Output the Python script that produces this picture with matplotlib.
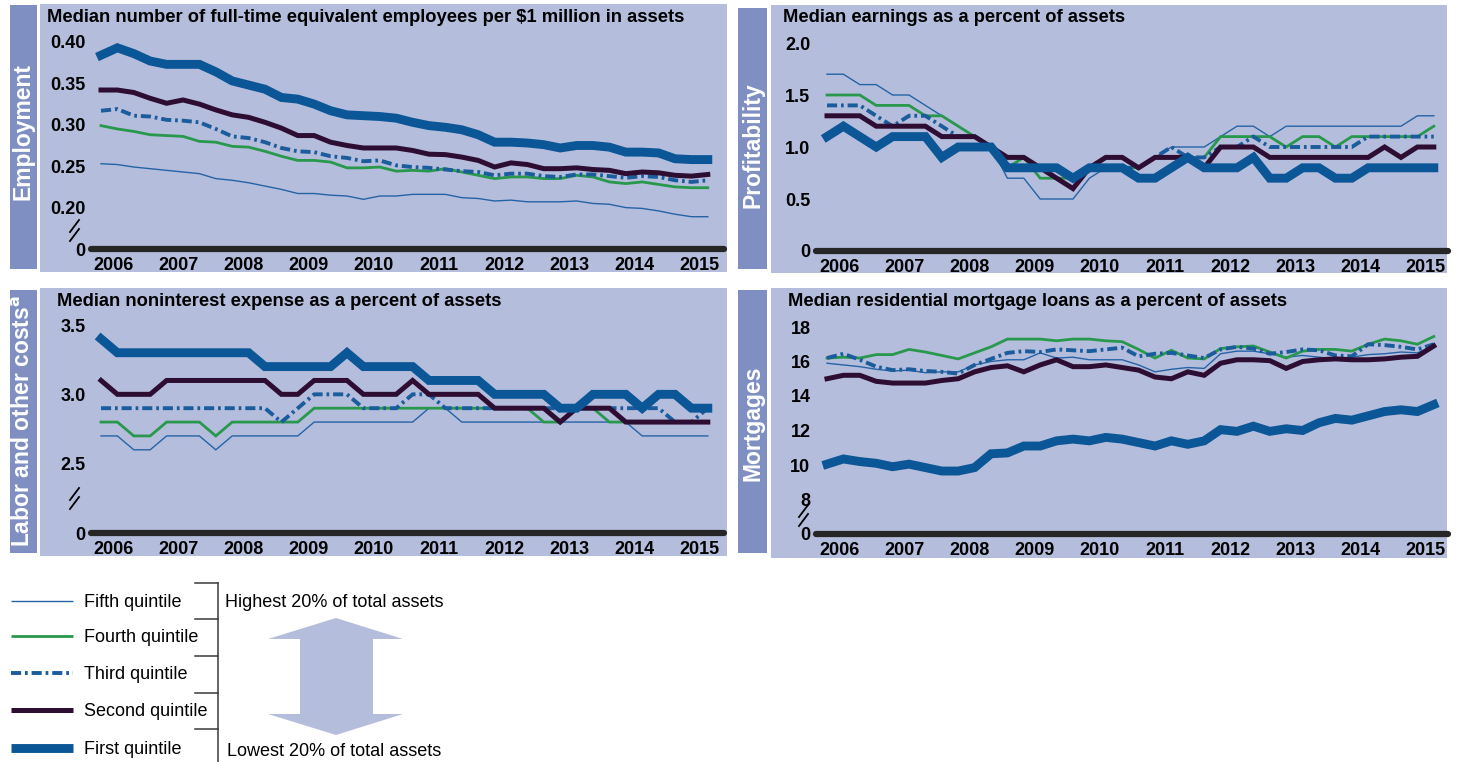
import numpy as np
import matplotlib
matplotlib.use('Agg')
import matplotlib.pyplot as plt
from matplotlib.lines import Line2D
from matplotlib.patches import Rectangle, Polygon

W, H = 1460, 762
FONT = ['Liberation Sans', 'DejaVu Sans']
plt.rcParams['font.family'] = FONT

years = list(range(2006, 2016))
quarters = np.arange(38)  # quarterly observations 2006Q1 .. 2015Q2

series_names = ['Fifth quintile', 'Fourth quintile', 'Third quintile',
                'Second quintile', 'First quintile']

# ---- Employment: FTE per $1 million in assets
emp_fifth = [0.253, 0.252, 0.249, 0.247, 0.245, 0.243, 0.241, 0.235, 0.233, 0.230,
             0.226, 0.222, 0.217, 0.217, 0.215, 0.214, 0.210, 0.214, 0.214, 0.216,
             0.216, 0.216, 0.212, 0.211, 0.208, 0.209, 0.207, 0.207, 0.207, 0.208,
             0.205, 0.204, 0.200, 0.199, 0.196, 0.192, 0.189, 0.189]
emp_fourth = [0.299, 0.295, 0.292, 0.288, 0.287, 0.286, 0.280, 0.279, 0.274, 0.273,
              0.268, 0.262, 0.257, 0.257, 0.255, 0.248, 0.248, 0.249, 0.244, 0.245,
              0.244, 0.247, 0.243, 0.239, 0.235, 0.237, 0.237, 0.235, 0.235, 0.239,
              0.237, 0.231, 0.229, 0.231, 0.228, 0.225, 0.224, 0.224]
emp_third = [0.317, 0.319, 0.311, 0.310, 0.306, 0.305, 0.303, 0.295, 0.286, 0.284,
             0.279, 0.272, 0.268, 0.267, 0.262, 0.260, 0.256, 0.257, 0.251, 0.249,
             0.248, 0.246, 0.244, 0.243, 0.239, 0.241, 0.241, 0.238, 0.237, 0.240,
             0.240, 0.238, 0.236, 0.238, 0.237, 0.233, 0.231, 0.233]
emp_second = [0.342, 0.342, 0.339, 0.332, 0.326, 0.330, 0.325, 0.318, 0.312, 0.309,
              0.303, 0.296, 0.287, 0.287, 0.279, 0.275, 0.272, 0.272, 0.272, 0.269,
              0.2645, 0.264, 0.261, 0.257, 0.249, 0.254, 0.252, 0.247, 0.247, 0.248,
              0.246, 0.245, 0.241, 0.243, 0.242, 0.239, 0.238, 0.240]
emp_first = [0.384, 0.393, 0.386, 0.377, 0.373, 0.373, 0.373, 0.364, 0.353, 0.348,
             0.343, 0.333, 0.331, 0.325, 0.317, 0.312, 0.311, 0.310, 0.308, 0.303,
             0.299, 0.297, 0.294, 0.288, 0.279, 0.279, 0.278, 0.276, 0.272, 0.275,
             0.275, 0.273, 0.267, 0.267, 0.266, 0.259, 0.258, 0.258]

# ---- Profitability: earnings as a percent of assets
prof_fifth = [1.7, 1.7, 1.6, 1.6, 1.5, 1.5, 1.4, 1.3, 1.2, 1.1,
              1.0, 0.7, 0.7, 0.5, 0.5, 0.5, 0.7, 0.8, 0.8, 0.8,
              0.9, 1.0, 1.0, 1.0, 1.1, 1.2, 1.2, 1.1, 1.2, 1.2,
              1.2, 1.2, 1.2, 1.2, 1.2, 1.2, 1.3, 1.3]
prof_fourth = [1.5, 1.5, 1.5, 1.4, 1.4, 1.4, 1.3, 1.3, 1.2, 1.1,
               1.0, 0.8, 0.9, 0.7, 0.7, 0.7, 0.8, 0.8, 0.8, 0.8,
               0.9, 0.9, 0.9, 0.9, 1.1, 1.1, 1.1, 1.1, 1.0, 1.1,
               1.1, 1.0, 1.1, 1.1, 1.1, 1.1, 1.1, 1.2]
prof_third = [1.4, 1.4, 1.4, 1.3, 1.2, 1.3, 1.3, 1.2, 1.1, 1.1,
              1.0, 0.8, 0.8, 0.8, 0.8, 0.7, 0.8, 0.8, 0.8, 0.8,
              0.9, 1.0, 0.9, 0.9, 1.0, 1.0, 1.1, 1.0, 1.0, 1.0,
              1.0, 1.0, 1.0, 1.1, 1.1, 1.1, 1.1, 1.1]
prof_second = [1.3, 1.3, 1.3, 1.2, 1.2, 1.2, 1.2, 1.1, 1.1, 1.1,
               1.0, 0.9, 0.9, 0.8, 0.7, 0.6, 0.8, 0.9, 0.9, 0.8,
               0.9, 0.9, 0.9, 0.8, 1.0, 1.0, 1.0, 0.9, 0.9, 0.9,
               0.9, 0.9, 0.9, 0.9, 1.0, 0.9, 1.0, 1.0]
prof_first = [1.1, 1.2, 1.1, 1.0, 1.1, 1.1, 1.1, 0.9, 1.0, 1.0,
              1.0, 0.8, 0.8, 0.8, 0.8, 0.7, 0.8, 0.8, 0.8, 0.7,
              0.7, 0.8, 0.9, 0.8, 0.8, 0.8, 0.9, 0.7, 0.7, 0.8,
              0.8, 0.7, 0.7, 0.8, 0.8, 0.8, 0.8, 0.8]

# ---- Labor and other costs: noninterest expense as a percent of assets
cost_fifth = [2.7, 2.7, 2.6, 2.6, 2.7, 2.7, 2.7, 2.6, 2.7, 2.7,
              2.7, 2.7, 2.7, 2.8, 2.8, 2.8, 2.8, 2.8, 2.8, 2.8,
              2.9, 2.9, 2.8, 2.8, 2.8, 2.8, 2.8, 2.8, 2.8, 2.8,
              2.8, 2.8, 2.8, 2.7, 2.7, 2.7, 2.7, 2.7]
cost_fourth = [2.8, 2.8, 2.7, 2.7, 2.8, 2.8, 2.8, 2.7, 2.8, 2.8,
               2.8, 2.8, 2.8, 2.9, 2.9, 2.9, 2.9, 2.9, 2.9, 2.9,
               2.9, 2.9, 2.9, 2.9, 2.9, 2.9, 2.9, 2.8, 2.8, 2.9,
               2.9, 2.8, 2.8, 2.8, 2.8, 2.8, 2.8, 2.8]
cost_third = [2.9, 2.9, 2.9, 2.9, 2.9, 2.9, 2.9, 2.9, 2.9, 2.9,
              2.9, 2.8, 2.9, 3.0, 3.0, 3.0, 2.9, 2.9, 2.9, 3.0,
              3.0, 2.9, 2.9, 2.9, 2.9, 2.9, 2.9, 2.9, 2.9, 2.9,
              2.9, 2.9, 2.9, 2.9, 2.9, 2.8, 2.8, 2.9]
cost_second = [3.1, 3.0, 3.0, 3.0, 3.1, 3.1, 3.1, 3.1, 3.1, 3.1,
               3.1, 3.0, 3.0, 3.1, 3.1, 3.1, 3.0, 3.0, 3.0, 3.1,
               3.0, 3.0, 3.0, 3.0, 2.9, 2.9, 2.9, 2.9, 2.8, 2.9,
               2.9, 2.9, 2.8, 2.8, 2.8, 2.8, 2.8, 2.8]
cost_first = [3.4, 3.3, 3.3, 3.3, 3.3, 3.3, 3.3, 3.3, 3.3, 3.3,
              3.2, 3.2, 3.2, 3.2, 3.2, 3.3, 3.2, 3.2, 3.2, 3.2,
              3.1, 3.1, 3.1, 3.1, 3.0, 3.0, 3.0, 3.0, 2.9, 2.9,
              3.0, 3.0, 3.0, 2.9, 3.0, 3.0, 2.9, 2.9]

# ---- Mortgages: residential mortgage loans as a percent of assets
mort_fifth = [15.9, 15.8, 15.7, 15.55, 15.45, 15.5, 15.35, 15.4, 15.4, 15.8,
              16.0, 16.1, 16.1, 16.5, 16.2, 16.25, 16.1, 16.1, 16.1, 15.8,
              15.4, 15.55, 15.65, 15.6, 16.45, 16.6, 16.6, 16.45, 16.25, 16.35,
              16.25, 16.15, 16.25, 16.4, 16.45, 16.55, 16.5, 16.9]
mort_fourth = [16.2, 16.25, 16.2, 16.4, 16.4, 16.7, 16.55, 16.35, 16.15, 16.5,
               16.85, 17.3, 17.3, 17.3, 17.2, 17.3, 17.3, 17.2, 17.15, 16.7,
               16.2, 16.65, 16.2, 16.15, 16.75, 16.85, 16.9, 16.55, 16.2, 16.6,
               16.7, 16.7, 16.6, 17.0, 17.3, 17.2, 17.0, 17.45]
mort_third = [16.2, 16.45, 16.1, 15.7, 15.5, 15.55, 15.45, 15.4, 15.3, 15.8,
              16.15, 16.5, 16.6, 16.55, 16.7, 16.65, 16.6, 16.7, 16.8, 16.3,
              16.45, 16.5, 16.35, 16.2, 16.7, 16.85, 16.75, 16.45, 16.55, 16.7,
              16.65, 16.35, 16.3, 17.0, 16.95, 16.85, 16.7, 17.0]
mort_second = [15.0, 15.2, 15.2, 14.85, 14.75, 14.75, 14.75, 14.9, 15.0, 15.4,
               15.65, 15.75, 15.4, 15.8, 16.1, 15.7, 15.7, 15.8, 15.65, 15.5,
               15.1, 15.0, 15.4, 15.2, 15.9, 16.1, 16.1, 16.05, 15.6, 16.0,
               16.1, 16.15, 16.1, 16.1, 16.15, 16.25, 16.3, 16.9]
mort_first = [10.05, 10.35, 10.2, 10.1, 9.9, 10.05, 9.85, 9.65, 9.65, 9.85,
              10.65, 10.7, 11.1, 11.1, 11.4, 11.5, 11.4, 11.6, 11.5, 11.3,
              11.1, 11.4, 11.2, 11.4, 12.05, 11.95, 12.25, 11.95, 12.1, 12.0,
              12.45, 12.7, 12.6, 12.85, 13.1, 13.2, 13.1, 13.5]

emp_ticks = [0.20, 0.25, 0.30, 0.35, 0.40]
emp_labels = ['0.20', '0.25', '0.30', '0.35', '0.40']
prof_ticks = [0.5, 1.0, 1.5, 2.0]
prof_labels = ['0.5', '1.0', '1.5', '2.0']
cost_ticks = [2.5, 3.0, 3.5]
cost_labels = ['2.5', '3.0', '3.5']
mort_ticks = [8, 10, 12, 14, 16, 18]
mort_labels = ['8', '10', '12', '14', '16', '18']

# ---- styles
BOX = '#b5bddc'
SIDE = '#7f8fc1'
styles = [
    dict(color='#2563a6', lw=1.0, ls='-'),
    dict(color='#27984c', lw=2.0, ls='-'),
    dict(color='#1a5c9c', lw=2.8, ls=(0, (2.6, 1.0, 0.7, 1.0))),
    dict(color='#2e0d33', lw=3.6, ls='-'),
    dict(color='#0b5697', lw=6.4, ls='-'),
]

fig = plt.figure(figsize=(W / 100, H / 100), dpi=100)


def fx(px):
    return px / W


def fy(py):
    return 1 - py / H


def frect(x0, y0, x1, y1, color):
    fig.patches.append(Rectangle((fx(x0), fy(y1)), (x1 - x0) / W, (y1 - y0) / H,
                                 transform=fig.transFigure, facecolor=color,
                                 edgecolor='none', zorder=-10))


def fline(xs, ys, **kw):
    fig.add_artist(Line2D([fx(x) for x in xs], [fy(y) for y in ys],
                          transform=fig.transFigure, **kw))


def panel(box, side, side_label, label_y, title, title_xy, ax_x, base_px, top_px,
          ticks, labels, data, brk, broken):
    frect(*box, BOX)
    frect(*side, SIDE)
    fig.text(fx((side[0] + side[2]) / 2), fy(label_y), side_label,
             rotation=90, ha='center', va='center', color='white',
             fontsize=16.5, fontweight='bold')
    fig.text(fx(title_xy[0]), fy(title_xy[1]), title, ha='left', va='center',
             fontsize=13.2, fontweight='bold', color='black')
    step = ticks[1] - ticks[0]
    base_val = ticks[0] - step if broken else 0.0
    nsteps = round((ticks[-1] - base_val) / step)
    step_px = (base_px - top_px) / nsteps
    ax_top = top_px - 0.25 * step_px
    ax = fig.add_axes([fx(ax_x[0]), fy(base_px), (ax_x[1] - ax_x[0]) / W,
                       (base_px - ax_top) / H])
    ax.set_zorder(5)
    ax.patch.set_alpha(0)
    for s in ax.spines.values():
        s.set_visible(False)
    # x: data index i at pixel x0 + 16.4*i
    x0_data = ax_x[0] + (11 if ax_x[0] > 700 else 10)
    ax.set_xlim((ax_x[0] - x0_data) / 16.4, (ax_x[1] - x0_data) / 16.4)
    ax.set_ylim(base_val, ticks[-1] + 0.25 * step)
    for vals, st in zip(data, styles):
        ax.plot(quarters, vals, color=st['color'], lw=st['lw'], ls=st['ls'],
                solid_joinstyle='miter', dash_joinstyle='miter',
                dash_capstyle='butt')
    ax.axhline(base_val, color='#262626', lw=4.5, clip_on=False,
               solid_capstyle='round', zorder=5)
    ax.set_yticks([base_val] + list(ticks), ['0'] + list(labels))
    ax.set_xticks([0.75 + 3.97 * k for k in range(len(years))],
                  [str(y) for y in years])
    ax.tick_params(length=0, labelsize=13, pad=4)
    ax.tick_params(axis='x', pad=6)
    for t in ax.get_xticklabels() + ax.get_yticklabels():
        t.set_fontweight('bold')
    if brk is not None:
        bx, by = brk
        for dy in (0, 9):
            fline([bx, bx + 9], [by + dy + 6, by + dy - 6], color='black', lw=1.3)
    return ax


left_x = (91, 724)
right_x = (816, 1448)

panel((40, 4, 727, 272), (10, 5, 37, 269), 'Employment', 131,
      'Median number of full-time equivalent employees per $1 million in assets',
      (47, 18), left_x, 249, 42, emp_ticks, emp_labels,
      [emp_fifth, emp_fourth, emp_third, emp_second, emp_first], (70, 226), True)

panel((771, 5, 1447, 273), (738, 8, 767, 269), 'Profitability', 145,
      'Median earnings as a percent of assets',
      (783, 18), right_x, 251, 43, prof_ticks, prof_labels,
      [prof_fifth, prof_fourth, prof_third, prof_second, prof_first], None, False)

panel((40, 288, 727, 556), (10, 290, 37, 553), r'Labor and other costs$^{\mathbf{a}}$', 421,
      'Median noninterest expense as a percent of assets',
      (57, 301), left_x, 533, 325, cost_ticks, cost_labels,
      [cost_fifth, cost_fourth, cost_third, cost_second, cost_first], (70, 494), True)

panel((771, 288, 1447, 558), (738, 290, 767, 553), 'Mortgages', 423,
      'Median residential mortgage loans as a percent of assets',
      (788, 301), right_x, 534, 327, mort_ticks, mort_labels,
      [mort_fifth, mort_fourth, mort_third, mort_second, mort_first], (799, 511), True)

# ---- legend
leg_y = [601, 636, 673, 710, 748]
for name, st, y in zip(series_names, styles, leg_y):
    fline([11, 73], [y, y], color=st['color'], lw=st['lw'], ls=st['ls'],
          solid_capstyle='butt', dash_capstyle='butt')
    fig.text(fx(84), fy(y + 1.5), name, ha='left', va='center', fontsize=13,
             color='black')

# bracket
fline([218, 218], [583, 762], color='#3a3a3a', lw=1.1)
for y in [583, 619, 656, 693, 729]:
    fline([195, 218], [y, y], color='#3a3a3a', lw=1.1)

fig.text(fx(225), fy(602.5), 'Highest 20% of total assets', ha='left', va='center',
         fontsize=13, color='black')
fig.text(fx(227), fy(751.5), 'Lowest 20% of total assets', ha='left', va='center',
         fontsize=13, color='black')

# double-headed arrow
cx = 336
pts = [(cx, 618), (403, 639), (373, 639), (373, 714), (403, 714), (cx, 735),
       (268, 714), (300, 714), (300, 639), (268, 639)]
fig.patches.append(Polygon([(fx(x), fy(y)) for x, y in pts], closed=True,
                           transform=fig.transFigure, facecolor=BOX,
                           edgecolor='none', zorder=-10))

fig.savefig('out.png', dpi=100)
